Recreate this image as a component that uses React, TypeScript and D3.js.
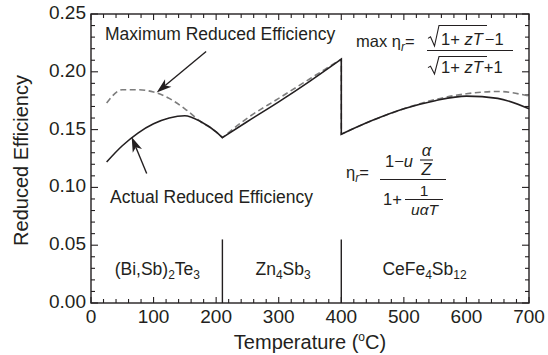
import React from "react";
import * as d3 from "d3";

const W = 548;
const H = 355;
const frame = { left: 91, right: 529, top: 14, bottom: 303 };

// (Bi,Sb)2Te3 stage
const bisbteT = [25, 50, 75, 100, 125, 150, 175, 200, 210];
const bisbteActual = [0.122, 0.136, 0.147, 0.155, 0.16, 0.162, 0.157, 0.148, 0.143];
const bisbteMax = [0.173, 0.1845, 0.1845, 0.1825, 0.177, 0.168, 0.157, 0.148, 0.143];

// Zn4Sb3 stage
const znsbT = [210, 250, 300, 350, 400];
const znsbActual = [0.143, 0.157, 0.174, 0.192, 0.211];
const znsbMax = [0.143, 0.16, 0.177, 0.194, 0.211];

// CeFe4Sb12 stage
const cefeT = [400, 450, 500, 550, 600, 650, 700];
const cefeActual = [0.146, 0.158, 0.168, 0.175, 0.179, 0.177, 0.168];
const cefeMax = [0.146, 0.158, 0.168, 0.176, 0.181, 0.183, 0.179];

const xTicks = [0, 100, 200, 300, 400, 500, 600, 700];
const yTicks = [0, 0.05, 0.1, 0.15, 0.2, 0.25];
const stageBounds = [210, 400];

const x = d3.scaleLinear().domain([0, 700]).range([frame.left, frame.right]);
const y = d3.scaleLinear().domain([0, 0.25]).range([frame.bottom, frame.top]);

const ink = "#231f20";
const font = "'Liberation Sans', Arial, Helvetica, sans-serif";

function segmentPath(segments: [number[], number[]][]) {
  const line = d3
    .line<[number, number]>()
    .x((d) => x(d[0]))
    .y((d) => y(d[1]))
    .curve(d3.curveMonotoneX);
  return segments
    .map(([ts, vs], i) => {
      const p = line(ts.map((t, j) => [t, vs[j]] as [number, number])) || "";
      return i === 0 ? p : "L" + p.slice(1);
    })
    .join("");
}

function Arrow({ from, to }: { from: [number, number]; to: [number, number] }) {
  const x1 = x(from[0]);
  const y1 = y(from[1]);
  const x2 = x(to[0]);
  const y2 = y(to[1]);
  const dx = x2 - x1;
  const dy = y2 - y1;
  const len = Math.hypot(dx, dy);
  const ux = dx / len;
  const uy = dy / len;
  const px = -uy;
  const py = ux;
  const head = 15;
  const half = 5;
  const notch = 11;
  const bx = x2 - ux * head;
  const by = y2 - uy * head;
  const nx = x2 - ux * notch;
  const ny = y2 - uy * notch;
  const pts = [
    [x2, y2],
    [bx + px * half, by + py * half],
    [nx, ny],
    [bx - px * half, by - py * half],
  ];
  return (
    <g>
      <line x1={x1} y1={y1} x2={nx} y2={ny} stroke={ink} strokeWidth={1.4} />
      <polygon points={pts.map((p) => p.join(",")).join(" ")} fill={ink} />
    </g>
  );
}

function Radical({ x0, top, bottom, end }: { x0: number; top: number; bottom: number; end: number }) {
  const mid = bottom - (bottom - top) * 0.42;
  const d = `M${x0},${mid + 1} L${x0 + 2.5},${mid - 0.5} L${x0 + 6.5},${bottom} L${x0 + 11},${top} L${end},${top}`;
  return <path d={d} fill="none" stroke={ink} strokeWidth={1.1} />;
}

export default function App() {
  const xMinor = d3.range(0, 701, 20);
  const yMinor = d3.range(0, 26).map((i) => i / 100);
  const actualPath = segmentPath([
    [bisbteT, bisbteActual],
    [znsbT, znsbActual],
    [cefeT, cefeActual],
  ]);
  const maxPath = segmentPath([
    [bisbteT, bisbteMax],
    [znsbT, znsbMax],
    [cefeT, cefeMax],
  ]);

  return (
    <svg
      width={W}
      height={H}
      style={{ position: "absolute", left: 0, top: 0, background: "#fff" }}
      fontFamily={font}
      fill={ink}
    >
      {/* minor and major ticks, pointing inward on all four sides */}
      <g stroke={ink} strokeWidth={1.1}>
        {xMinor.map((t) => {
          const major = t % 100 === 0;
          const l = major ? 6 : 4;
          return (
            <g key={"x" + t}>
              <line x1={x(t)} x2={x(t)} y1={frame.bottom} y2={frame.bottom - l} />
              <line x1={x(t)} x2={x(t)} y1={frame.top} y2={frame.top + l} />
            </g>
          );
        })}
        {yMinor.map((v, i) => {
          const major = i % 5 === 0;
          const l = major ? 7 : 4;
          return (
            <g key={"y" + i}>
              <line x1={frame.left} x2={frame.left + l} y1={y(v)} y2={y(v)} />
              <line x1={frame.right} x2={frame.right - l} y1={y(v)} y2={y(v)} />
            </g>
          );
        })}
      </g>

      <rect
        x={frame.left}
        y={frame.top}
        width={frame.right - frame.left}
        height={frame.bottom - frame.top}
        fill="none"
        stroke={ink}
        strokeWidth={1.4}
      />

      {/* tick labels */}
      <g fontSize={19}>
        {yTicks.map((v) => (
          <text key={v} x={frame.left - 5} y={y(v) + 5} textAnchor="end">
            {v.toFixed(2)}
          </text>
        ))}
        {xTicks.map((t) => (
          <text key={t} x={x(t)} y={frame.bottom + 20} textAnchor="middle">
            {t}
          </text>
        ))}
      </g>

      {/* axis titles */}
      <text x={(frame.left + frame.right) / 2} y={349} textAnchor="middle" fontSize={20}>
        Temperature (<tspan fontSize={12} dy={-8}>o</tspan>
        <tspan dy={8}>C)</tspan>
      </text>
      <text
        transform={`translate(28,${(frame.top + frame.bottom) / 2 + 2}) rotate(-90)`}
        textAnchor="middle"
        fontSize={20}
      >
        Reduced Efficiency
      </text>

      {/* stage boundaries */}
      <g stroke={ink} strokeWidth={1.4}>
        {stageBounds.map((t) => (
          <line key={t} x1={x(t)} x2={x(t)} y1={y(0)} y2={y(0.055)} />
        ))}
      </g>

      {/* stage material labels */}
      <g fontSize={17.5} textAnchor="middle">
        <text x={x(106)} y={275}>
          (Bi,Sb)<tspan fontSize={12} dy={4}>2</tspan>
          <tspan dy={-4}>Te</tspan>
          <tspan fontSize={12} dy={4}>3</tspan>
        </text>
        <text x={x(307)} y={275}>
          Zn<tspan fontSize={12} dy={4}>4</tspan>
          <tspan dy={-4}>Sb</tspan>
          <tspan fontSize={12} dy={4}>3</tspan>
        </text>
        <text x={x(533)} y={275}>
          CeFe<tspan fontSize={12} dy={4}>4</tspan>
          <tspan dy={-4}>Sb</tspan>
          <tspan fontSize={12} dy={4}>12</tspan>
        </text>
      </g>

      {/* efficiency curves */}
      <path d={maxPath} fill="none" stroke="#7d7d7d" strokeWidth={1.6} strokeDasharray="6,3.5" />
      <path d={actualPath} fill="none" stroke={ink} strokeWidth={1.6} />

      {/* curve labels */}
      <g fontSize={17.5}>
        <text x={105} y={40}>Maximum Reduced Efficiency</text>
        <text x={110} y={203}>Actual Reduced Efficiency</text>
      </g>
      <Arrow from={[184, 0.2175]} to={[105, 0.182]} />
      <Arrow from={[89, 0.112]} to={[65, 0.1436]} />

      {/* max efficiency expression */}
      <g fontSize={16.5}>
        <text x={356} y={47}>
          max η<tspan fontStyle="italic" fontSize={12} dy={4}>r</tspan>
          <tspan dy={-4}>=</tspan>
        </text>
        <line x1={427} x2={513} y1={50.5} y2={50.5} stroke={ink} strokeWidth={1.2} />
        <Radical x0={428} top={25.5} bottom={46} end={487} />
        <text x={441} y={45}>
          1+ <tspan fontStyle="italic">zT</tspan>
          <tspan dx={2}>−1</tspan>
        </text>
        <Radical x0={428} top={56.5} bottom={74} end={487} />
        <text x={441} y={73}>
          1+ <tspan fontStyle="italic">zT</tspan>
          <tspan dx={1}>+1</tspan>
        </text>
      </g>

      {/* compatibility-based efficiency expression */}
      <g fontSize={16.5}>
        <text x={346} y={178}>
          η<tspan fontStyle="italic" fontSize={12} dy={4}>r</tspan>
          <tspan dy={-4}>=</tspan>
        </text>
        <line x1={380} x2={446} y1={179.5} y2={179.5} stroke={ink} strokeWidth={1.2} />
        <text x={385} y={167}>
          1−<tspan fontStyle="italic">u</tspan>
        </text>
        <text x={426.5} y={156} textAnchor="middle" fontStyle="italic">
          α
        </text>
        <line x1={420} x2={433} y1={160} y2={160} stroke={ink} strokeWidth={1.1} />
        <text x={426.5} y={175} textAnchor="middle" fontStyle="italic">
          Z
        </text>
        <text x={383} y={205}>1+</text>
        <text x={424} y={196} textAnchor="middle" fontSize={15.5}>
          1
        </text>
        <line x1={405} x2={443} y1={199.5} y2={199.5} stroke={ink} strokeWidth={1.1} />
        <text x={424.5} y={215} textAnchor="middle" fontStyle="italic" fontSize={15.5}>
          uαT
        </text>
      </g>
    </svg>
  );
}
